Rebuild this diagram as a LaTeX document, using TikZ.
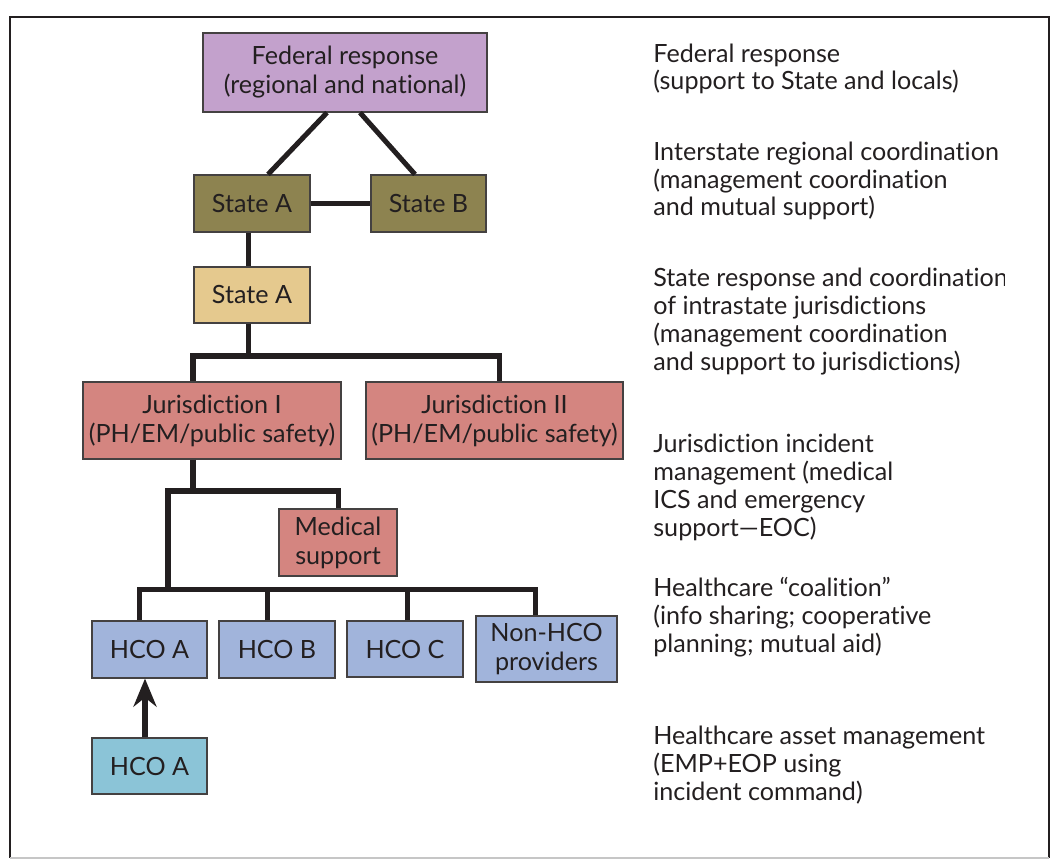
\documentclass[tikz,border=0pt]{standalone}
\usepackage{fontspec}
\setmainfont{Lato}[Ligatures={TeX,NoCommon}]
\usetikzlibrary{positioning,calc,arrows.meta}

\definecolor{inkc}{HTML}{231F20}
\definecolor{fedc}{HTML}{C3A1CC}
\definecolor{olivec}{HTML}{8D8350}
\definecolor{tanc}{HTML}{E5C98E}
\definecolor{jurc}{HTML}{D48580}
\definecolor{hcoc}{HTML}{A1B4DB}
\definecolor{cmdc}{HTML}{8BC4D7}

\newcommand{\boxfont}{\fontsize{14.3}{16.5}\selectfont}
\newcommand{\notefont}{\fontsize{14.3}{15.9}\selectfont}

\tikzset{
    box/.style={draw=inkc!85, line width=0.7pt, text=inkc, inner sep=0pt, align=center, font=\boxfont},
    conn/.style={draw=inkc, line width=2.85pt},
    note/.style={anchor=base west, align=left, inner sep=0pt, text=inkc, font=\notefont},
}

\begin{document}
\begin{tikzpicture}[x=0.02cm,y=-0.02cm]
        \useasboundingbox (0,0) rectangle (1054,861);
        \draw[inkc, line width=1.2pt] (1049,858) -- (1049,17) -- (10,17) -- (10,858);
        \draw[gray!45, line width=1pt] (10,858) -- (1049,858);

        % boxes
        \node[box, fill=fedc, minimum width=5.68cm, minimum height=1.58cm] (fed) at (345,72.5) {Federal response\\(regional and national)};
        \node[box, fill=olivec, minimum width=2.32cm, minimum height=1.14cm] (sa) at (252,203.5) {State A};
        \node[box, fill=olivec, minimum width=2.30cm, minimum height=1.14cm] (sb) at (428.5,203.5) {State B};
        \node[box, fill=tanc, minimum width=2.32cm, minimum height=1.12cm] (sai) at (252,295) {State A};
        \node[box, fill=jurc, minimum width=5.16cm, minimum height=1.54cm] (jone) at (212,420.5) {Jurisdiction I\\(PH/EM/public safety)};
        \node[box, fill=jurc, minimum width=5.14cm, minimum height=1.54cm] (jtwo) at (494.5,420.5) {Jurisdiction II\\(PH/EM/public safety)};
        \node[box, fill=jurc, minimum width=2.36cm, minimum height=1.34cm] (med) at (338,542.5) {Medical\\support};
        \node[box, fill=hcoc, minimum width=2.30cm, minimum height=1.14cm] (hcoa) at (149.5,649.5) {HCO A};
        \node[box, fill=hcoc, minimum width=2.32cm, minimum height=1.14cm] (hcob) at (277,649.5) {HCO B};
        \node[box, fill=hcoc, minimum width=2.32cm, minimum height=1.12cm] (hcoc) at (405,649) {HCO C};
        \node[box, fill=hcoc, minimum width=2.82cm, minimum height=1.32cm] (nonhco) at (546.5,649) {Non-HCO\\providers};
        \node[box, fill=cmdc, minimum width=2.30cm, minimum height=1.12cm] (hcoacmd) at (149.5,766) {HCO A};

        % links
        \coordinate (busj) at (248,356);
        \coordinate (busm) at (193,491);
        \coordinate (bush) at (168,589);
        \draw[conn] ($(fed.south)+(-18,0)$) -- ($(sa.north)+(16,0)$);
        \draw[conn] ($(fed.south)+(15,0)$) -- ($(sb.north)+(-13.5,0)$);
        \draw[conn] (sa.east) -- (sb.west);
        \draw[conn] ($(sa.south)+(-4,0)$) -- ($(sai.north)+(-4,0)$);
        \draw[conn] ($(sai.south)+(-4,0)$) -- (busj);
        \draw[conn] ($(jone.north)+(-19,0)$) |- (busj) -| ($(jtwo.north)+(4.5,0)$);
        \draw[conn] ($(jone.south)+(-19,0)$) -- (busm);
        \draw[conn] (bush) |- (busm) -| (med.north);
        \draw[conn] ($(hcoa.north)+(-10,0)$) |- (bush) -| ($(nonhco.north)+(-11.5,0)$);
        \draw[conn] ($(hcob.north)+(-10,0)$) |- (bush);
        \draw[conn] ($(hcoc.north)+(2,0)$) |- (bush);
        \draw[conn, -{Stealth[length=5.6mm, width=4.6mm, inset=1.8mm]}] ($(hcoacmd.north)+(-4.5,0)$) -- ($(hcoa.south)+(-4.5,0)$);

        % level notes (base = last line)
        \begin{scope}
            \clip (640,0) rectangle (1004,861);
            \node[note] (nfed) at (653,90) {Federal response\\(support to State and locals)};
            \node[note] (nreg) at (653,216) {Interstate regional coordination\\(management coordination\\and mutual support)};
            \node[note] (nstate) at (653,370) {State response and coordination\\of intrastate jurisdictions\\(management coordination\\and support to jurisdictions)};
            \node[note] (njur) at (653,536) {Jurisdiction incident\\management (medical\\ICS and emergency\\support---EOC)};
            \node[note] (ncoal) at (653,652) {Healthcare ``coalition''\\(info sharing; cooperative\\planning; mutual aid)};
            \node[note] (nasset) at (653,800) {Healthcare asset management\\(EMP+EOP using\\incident command)};
        \end{scope}
\end{tikzpicture}
\end{document}
